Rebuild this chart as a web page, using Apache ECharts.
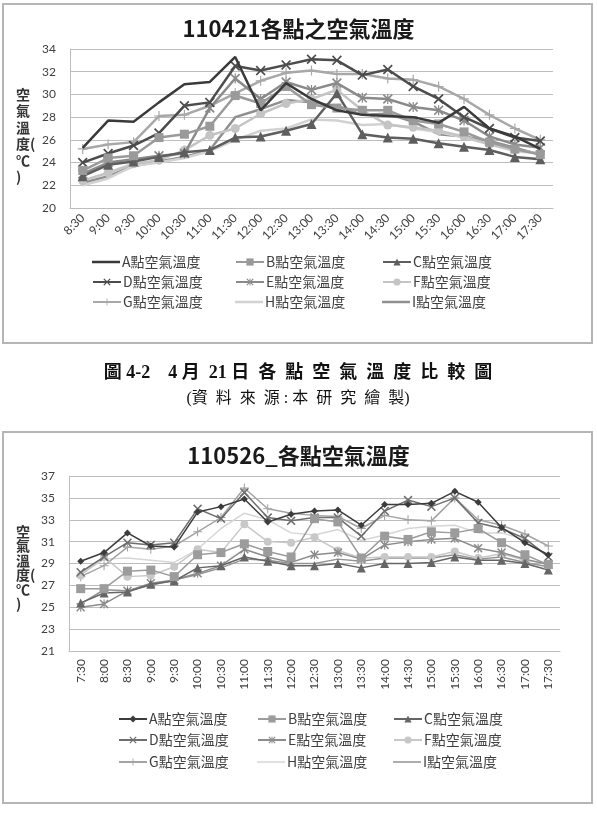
<!DOCTYPE html>
<html>
<head>
<meta charset="utf-8">
<script src="https://cdn.jsdelivr.net/npm/echarts@6/dist/echarts.min.js"></script>
<style>
html, body { margin: 0; padding: 0; background: #fff; }
#aprChart { width: 597px; height: 430px; }
#mayChart { width: 597px; height: 393px; }
</style>
</head>
<body>
<div id="aprChart"></div>
<div id="mayChart"></div>
<script>
// time slots
var aprTimes = ['8:30', '9:00', '9:30', '10:00', '10:30', '11:00', '11:30', '12:00', '12:30', '13:00',
    '13:30', '14:00', '14:30', '15:00', '15:30', '16:00', '16:30', '17:00', '17:30'];
var mayTimes = ['7:30', '8:00', '8:30', '9:00', '9:30', '10:00', '10:30', '11:00', '11:30', '12:00', '12:30',
    '13:00', '13:30', '14:00', '14:30', '15:00', '15:30', '16:00', '16:30', '17:00', '17:30'];

var pointNames = ['A點空氣溫度', 'B點空氣溫度', 'C點空氣溫度', 'D點空氣溫度', 'E點空氣溫度',
    'F點空氣溫度', 'G點空氣溫度', 'H點空氣溫度', 'I點空氣溫度'];

// 110421 (4/21) air temperature per point
var aprA = [25.3, 27.7, 27.6, 29.3, 30.9, 31.1, 33.3, 28.6, 31.0, 29.6, 28.6, 28.2, 28.1, 28.0, 27.5, 28.9, 27.0, 26.3, 25.2];
var aprB = [23.3, 24.4, 24.6, 26.2, 26.5, 27.2, 29.9, 29.2, 30.7, 29.1, 28.8, 28.6, 28.6, 27.7, 27.4, 26.7, 25.8, 25.2, 24.7];
var aprC = [22.8, 23.8, 24.1, 24.5, 24.9, 25.1, 26.2, 26.3, 26.8, 27.4, 30.1, 26.5, 26.2, 26.1, 25.7, 25.4, 25.1, 24.5, 24.3];
var aprD = [24.0, 24.8, 25.5, 26.6, 29.0, 29.3, 32.5, 32.1, 32.6, 33.1, 33.0, 31.7, 32.2, 30.7, 29.6, 28.0, 27.0, 26.2, 25.9];
var aprE = [23.0, 24.0, 24.3, 24.6, 24.8, 28.8, 31.4, 29.6, 31.1, 30.4, 31.0, 29.7, 29.6, 28.9, 28.6, 27.7, 26.3, 25.6, 25.3];
var aprF = [22.4, 23.1, 23.9, 24.2, 25.1, 26.4, 27.0, 28.3, 29.2, 29.6, 30.4, 28.6, 27.3, 27.1, 26.8, 26.3, 25.6, 25.1, 24.8];
var aprG = [25.2, 25.6, 25.8, 28.1, 28.2, 29.0, 30.1, 31.2, 31.9, 32.1, 31.8, 31.8, 31.4, 31.3, 30.7, 29.6, 28.2, 27.0, 26.0];
var aprH = [22.0, 22.6, 23.7, 24.0, 24.4, 25.0, 26.0, 26.8, 27.0, 27.8, 27.7, 27.3, 27.4, 27.0, 26.7, 26.2, 25.6, 25.0, 24.8];
var aprI = [22.2, 22.8, 23.7, 24.1, 24.5, 25.1, 28.0, 28.7, 29.5, 29.3, 29.0, 28.2, 28.3, 27.6, 26.5, 26.3, 25.9, 25.3, 24.7];

// 110526 (5/26) air temperature per point
var mayA = [29.2, 30.0, 31.8, 30.6, 30.5, 33.7, 34.2, 34.9, 32.8, 33.5, 33.8, 33.9, 32.5, 34.4, 34.4, 34.5, 35.6, 34.6, 32.3, 30.9, 29.8];
var mayB = [26.7, 26.7, 28.3, 28.4, 27.8, 29.8, 30.0, 30.8, 30.1, 29.6, 33.1, 32.8, 29.5, 31.5, 31.2, 31.9, 31.8, 32.2, 30.9, 29.8, 28.9];
var mayC = [25.4, 26.3, 26.4, 27.1, 27.4, 28.6, 28.8, 29.6, 29.2, 28.8, 28.8, 29.0, 28.6, 29.0, 29.0, 29.1, 29.6, 29.3, 29.3, 29.0, 28.4];
var mayD = [28.2, 29.6, 30.9, 30.7, 30.9, 34.0, 33.1, 35.5, 33.2, 32.9, 33.2, 33.2, 31.5, 33.8, 34.8, 34.2, 35.0, 32.7, 32.2, 31.3, 29.6];
var mayE = [25.0, 25.3, 26.5, 27.2, 27.5, 28.1, 28.8, 30.3, 29.6, 29.1, 29.8, 30.0, 29.4, 30.7, 31.0, 31.2, 31.3, 30.4, 30.0, 29.4, 28.9];
var mayF = [27.9, 29.6, 27.8, 27.9, 28.7, 30.3, 30.0, 32.6, 31.0, 30.9, 31.4, 30.2, 29.5, 29.6, 29.6, 29.6, 30.1, 29.5, 29.9, 29.3, 29.0];
var mayG = [27.8, 28.8, 30.5, 30.3, 30.6, 31.9, 33.2, 35.9, 34.0, 33.6, 33.4, 33.3, 32.2, 33.4, 33.0, 32.9, 35.0, 33.0, 32.5, 31.7, 30.6];
var mayH = [28.0, 29.4, 29.5, 29.3, 29.1, 30.3, 32.2, 33.6, 33.0, 31.8, 31.6, 32.1, 31.1, 31.6, 32.2, 32.4, 32.5, 31.8, 31.8, 31.2, 29.6];
var mayI = [25.3, 26.6, 26.5, 27.0, 27.5, 28.0, 28.6, 29.4, 29.3, 29.0, 29.0, 29.4, 29.2, 29.5, 29.5, 29.5, 29.8, 29.4, 29.6, 29.1, 28.7];

// marker shapes (excel style x, + and *)
var SYM_X = 'path://M0,1.2L1.2,0L5,3.8L8.8,0L10,1.2L6.2,5L10,8.8L8.8,10L5,6.2L1.2,10L0,8.8L3.8,5Z';
var SYM_PLUS = 'path://M4.4,0H5.6V4.4H10V5.6H5.6V10H4.4V5.6H0V4.4H4.4Z';
var SYM_STAR = 'path://M0,1.2L1.2,0L5,3.8L8.8,0L10,1.2L6.2,5L10,8.8L8.8,10L5,6.2L1.2,10L0,8.8L3.8,5ZM4.4,0H5.6V10H4.4Z';

var FONT_CJK = '"Noto Sans CJK TC", "Noto Sans CJK SC", sans-serif';
var FONT_NUM = 'Lato, "Noto Sans CJK TC", sans-serif';

function buildSeries(dataList, colors, symbols, sizes, width) {
    return dataList.map(function (d, k) {
        return {
            name: pointNames[k],
            type: 'line',
            data: d,
            symbol: symbols[k],
            symbolSize: sizes[k],
            showSymbol: symbols[k] !== 'none',
            color: colors[k],
            itemStyle: { color: colors[k] },
            lineStyle: { color: colors[k], width: width },
            z: 10 - k,
            animation: false
        };
    });
}

// one legend per entry so the 3x3 grid lines up like the excel one
function buildLegends(colLeft, rowTop, symbols, width) {
    return pointNames.map(function (n, k) {
        var plain = symbols[k] === 'none';
        return {
            data: [plain ? { name: n, icon: 'rect' } : n],
            left: colLeft[k % 3],
            top: rowTop[Math.floor(k / 3)],
            padding: 0,
            itemWidth: 28,
            itemHeight: plain ? width : 9,
            selectedMode: false,
            textStyle: { fontSize: 14, color: '#404040', fontFamily: FONT_CJK, padding: [0, 0, 0, -3] }
        };
    });
}

function axisNameText(x, y, lineH) {
    return {
        type: 'text',
        x: x, y: y,
        silent: true,
        style: {
            text: '空\n氣\n溫\n度(\n℃\n)',
            fill: '#333',
            font: 'bold 14px ' + FONT_CJK,
            lineHeight: lineH,
            textAlign: 'left', align: 'left'
        }
    };
}

// ---------- chart 1: 110421 ----------
var aprChart = echarts.init(document.getElementById('aprChart'));
var aprColors = ['#3a3a3a', '#9a9a9a', '#5e5e5e', '#4c4c4c', '#8a8a8a', '#c4c4c4', '#a8a8a8', '#d2d2d2', '#8f8f8f'];
var aprSymbols = ['none', 'rect', 'triangle', SYM_X, SYM_STAR, 'circle', SYM_PLUS, 'none', 'none'];
var aprSizes = [0, 9, 10, 10, 10, 9, 10, 0, 0];

aprChart.setOption({
    backgroundColor: '#fff',
    title: {
        text: '110421各點之空氣溫度',
        left: 'center',
        top: 13,
        textStyle: { fontSize: 22, fontWeight: 'bold', color: '#1a1a1a', fontFamily: FONT_CJK }
    },
    grid: { left: 70, right: 44, top: 49, bottom: 222 },
    xAxis: {
        type: 'category',
        data: aprTimes,
        boundaryGap: true,
        axisLine: { lineStyle: { color: '#bdbdbd' } },
        axisTick: { show: false },
        axisLabel: { rotate: 45, interval: 0, fontSize: 12, color: '#404040', fontFamily: FONT_NUM, margin: 8 }
    },
    yAxis: {
        type: 'value',
        min: 20, max: 34, interval: 2,
        axisLine: { show: true, lineStyle: { color: '#bdbdbd' } },
        axisTick: { show: false },
        splitLine: { lineStyle: { color: '#bdbdbd', width: 1.2 } },
        axisLabel: { fontSize: 12, color: '#404040', fontFamily: FONT_NUM, margin: 14 }
    },
    legend: buildLegends([92, 235, 382], [255, 275, 295], aprSymbols, 2.5),
    series: buildSeries([aprA, aprB, aprC, aprD, aprE, aprF, aprG, aprH, aprI],
        aprColors, aprSymbols, aprSizes, 2.5),
    graphic: [
        {
            type: 'rect', silent: true, z: -1,
            shape: { x: 3, y: 4, width: 589, height: 339 },
            style: { fill: 'none', stroke: '#b5b5b5', lineWidth: 2 }
        },
        axisNameText(16, 86, 16.5),
        {
            type: 'text', silent: true,
            x: 298, y: 373,
            style: {
                text: '圖 4-2    4 月  21 日  各  點  空  氣  溫  度  比  較  圖',
                fill: '#111',
                font: 'bold 18px "Liberation Serif", ' + FONT_CJK,
                textAlign: 'center', align: 'center',
                textVerticalAlign: 'middle', verticalAlign: 'middle'
            }
        },
        {
            type: 'text', silent: true,
            x: 298, y: 399,
            style: {
                text: '(資  料  來  源 : 本  研  究  繪  製)',
                fill: '#111',
                font: '16px "Liberation Serif", ' + FONT_CJK,
                textAlign: 'center', align: 'center',
                textVerticalAlign: 'middle', verticalAlign: 'middle'
            }
        }
    ]
});

// ---------- chart 2: 110526 ----------
var mayChart = echarts.init(document.getElementById('mayChart'));
var mayColors = ['#3c3c3c', '#9c9c9c', '#666666', '#6e6e6e', '#8c8c8c', '#c8c8c8', '#a4a4a4', '#d6d6d6', '#929292'];
var maySymbols = ['diamond', 'rect', 'triangle', SYM_X, SYM_STAR, 'circle', SYM_PLUS, 'none', 'none'];
var maySizes = [7, 9, 9, 9, 9, 8, 9, 0, 0];

mayChart.setOption({
    backgroundColor: '#fff',
    title: {
        text: '110526_各點空氣溫度',
        left: 'center',
        top: 10,
        textStyle: { fontSize: 22, fontWeight: 'bold', color: '#1a1a1a', fontFamily: FONT_CJK }
    },
    grid: { left: 69, right: 37, top: 46, bottom: 172 },
    xAxis: {
        type: 'category',
        data: mayTimes,
        boundaryGap: true,
        axisLine: { lineStyle: { color: '#bdbdbd' } },
        axisTick: { show: false },
        axisLabel: { rotate: 90, interval: 0, fontSize: 12, color: '#404040', fontFamily: FONT_NUM, margin: 8 }
    },
    yAxis: {
        type: 'value',
        min: 21, max: 37, interval: 2,
        axisLine: { show: true, lineStyle: { color: '#bdbdbd' } },
        axisTick: { show: false },
        splitLine: { lineStyle: { color: '#bdbdbd', width: 1.2 } },
        axisLabel: { fontSize: 12, color: '#404040', fontFamily: FONT_NUM, margin: 14 }
    },
    legend: buildLegends([118, 257, 393], [282, 303, 325], maySymbols, 1.5),
    series: buildSeries([mayA, mayB, mayC, mayD, mayE, mayF, mayG, mayH, mayI],
        mayColors, maySymbols, maySizes, 1.5),
    graphic: [
        {
            type: 'rect', silent: true, z: -1,
            shape: { x: 3, y: 2, width: 589, height: 371 },
            style: { fill: 'none', stroke: '#b5b5b5', lineWidth: 2 }
        },
        axisNameText(16, 94, 14.5)
    ]
});
</script>
</body>
</html>
